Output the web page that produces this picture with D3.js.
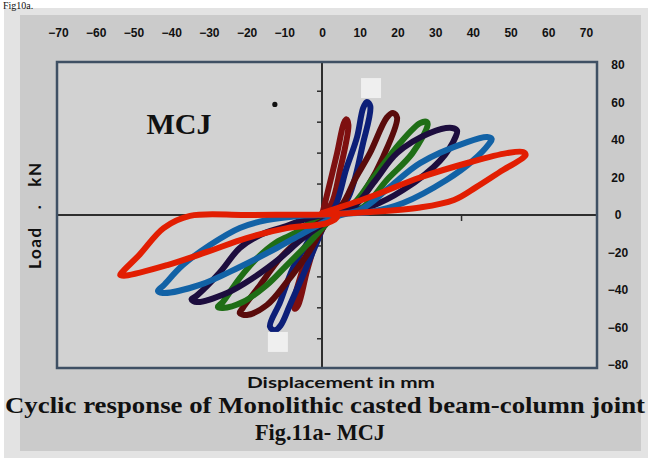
<!DOCTYPE html>
<html>
<head>
<meta charset="utf-8">
<script src="https://cdn.jsdelivr.net/npm/d3@7"></script>
<style>
  html, body { margin: 0; padding: 0; background: #ffffff; }
  svg { display: block; }
</style>
</head>
<body>
<svg id="chart" width="651" height="464"></svg>
<script>
// Axis tick labels
const xTickLabels = [-70, -60, -50, -40, -30, -20, -10, 0, 10, 20, 30, 40, 50, 60, 70];
const yTickLabels = [80, 60, 40, 20, 0, -20, -40, -60, -80];
const yAxisTicks = [-66, -49.5, -33, -16.5, 16.5, 33, 49.5, 66];
const xAxisTicks = [-37, 37];

// Hysteresis cycles: [displacement mm, load kN]
const cycle1 = [[0,0],[0.8,6.4],[4,33],[5.8,49],[6.5,51],[7,48],[4.8,24],[2.5,6],[0,0],[-1,-9],[-4,-30],[-6.3,-48],[-7.2,-50],[-7.5,-47],[-5,-28],[-2,-8],[0,0]];
const cycle2 = [[0,0],[2.9,2.7],[6.5,25],[9.3,41.6],[10.9,57],[11.9,60.3],[12.8,58],[10.9,38.4],[6.6,8],[2,0],[-1.3,-14.4],[-5,-32],[-8.5,-48],[-11,-59],[-12.5,-61.5],[-13.8,-59.5],[-11.1,-46.4],[-7.7,-28.3],[-3.2,-12.3],[0,0]];
const cycle3 = [[0,0],[4.8,4.3],[9,20],[12.7,33],[17.2,52],[18.8,54.4],[19.9,52],[16.2,31],[12,15],[8,4],[3,0],[-4,-21.3],[-9.3,-35.7],[-14.6,-48],[-19.9,-53.3],[-21.8,-52.3],[-21,-49.6],[-16.4,-37.3],[-11.1,-23],[-5.8,-12.3],[-2,-3],[0,0]];
const cycle4 = [[0,0],[7.4,4.3],[14,21],[20.7,38.4],[26,49],[27.8,49.6],[28,48],[24,33],[17.2,18.7],[10.9,4.3],[4,0],[-4,-16],[-9.3,-26.7],[-14.6,-37.3],[-21,-46.4],[-26.3,-49.6],[-27.6,-49],[-26.3,-46.4],[-21.8,-33.6],[-17.2,-23],[-12,-14.4],[-6.6,-9],[-2,-2],[0,0]];
const cycle5 = [[0,0],[8.2,4.3],[14,18],[19.9,33],[28.6,43.7],[34.5,46.4],[35.8,45],[35.5,42],[31.3,29],[21.5,13.3],[12.7,4.3],[5,0.5],[-5,-12.3],[-11.1,-23],[-18.3,-33.6],[-25.2,-41.6],[-33.2,-46.4],[-34.6,-45],[-33.2,-43],[-27,-30.4],[-21.8,-17.6],[-16.4,-10.7],[-10.3,-6.4],[-4,-2],[0,0]];
const cycle6 = [[0,0],[10,2.7],[18,15],[26,27.7],[38.5,38.9],[43.8,41.6],[45,40.5],[44.3,38],[40,29],[33,18.7],[21.5,6.4],[12.7,1.6],[5,0],[-5.8,-10.7],[-12,-17.6],[-21.8,-27.7],[-32.4,-37.3],[-42.2,-41.6],[-43.5,-40.5],[-42,-37.5],[-36.9,-26.7],[-29.7,-16],[-21.8,-6.9],[-14.6,-2.7],[-6,-0.5],[0,0]];
const cycle7 = [[0,1],[12.7,9.6],[26,20],[39,28],[49,33],[53.3,33.6],[54,32],[53,30],[48,24],[41,15],[35,8],[26,4],[12.7,1.6],[0,0.3],[-20,0],[-35,-0.5],[-42,-7],[-48.3,-21],[-53,-30.5],[-53.5,-32],[-52,-32.3],[-41,-26.7],[-30.5,-19.7],[-20,-12.3],[-9.3,-7],[1.3,-4.3],[4,-1],[0,1]];

const cycles = [cycle1, cycle2, cycle3, cycle4, cycle5, cycle6, cycle7];
const cycleColors = ["#7e1010", "#0c1f78", "#5a0b0b", "#1f6e16", "#1d0d3e", "#1262a6", "#e21e02"];

// Pale square markers at the peak cycle
const peakMarkers = [[13, 67.7], [-11.7, -67.7]];
// Isolated point near the label
const strayPoint = [[-12.5, 59]];

const svg = d3.select("#chart");

// Panel background
svg.append("rect").attr("x", 4).attr("y", 8).attr("width", 644).attr("height", 450).attr("fill", "#e3e3e3");
svg.append("rect").attr("x", 20).attr("y", 15).attr("width", 621).attr("height", 436).attr("fill", "#cbcbcb");

// Scales
const x = d3.scaleLinear().domain([-70, 70]).range([58, 586]);
const y = d3.scaleLinear().domain([-80, 80]).range([365, 65]);

const plot = { left: 57, right: 597, top: 62, bottom: 368 };

svg.append("rect")
  .attr("x", plot.left).attr("y", plot.top)
  .attr("width", plot.right - plot.left).attr("height", plot.bottom - plot.top)
  .attr("fill", "#d2d2d2");

// Top displacement labels
const topAxis = svg.append("g")
  .attr("transform", "translate(0,37)")
  .call(d3.axisTop(x).tickValues(xTickLabels).tickSize(0).tickPadding(0).tickFormat(d3.format("d")));
topAxis.select(".domain").remove();
topAxis.selectAll("text")
  .attr("fill", "#111")
  .style("font-family", "'Liberation Sans', Arial, sans-serif")
  .style("font-weight", "bold")
  .style("font-size", "12px");

// Right load labels
const rightAxis = svg.append("g")
  .attr("transform", "translate(618,0)")
  .call(d3.axisRight(y).tickValues(yTickLabels).tickSize(0).tickPadding(0).tickFormat(d3.format("d")));
rightAxis.select(".domain").remove();
rightAxis.selectAll("text")
  .attr("text-anchor", "middle")
  .attr("x", 0)
  .attr("fill", "#111")
  .style("font-family", "'Liberation Sans', Arial, sans-serif")
  .style("font-weight", "bold")
  .style("font-size", "12px");

// Zero lines
svg.append("line")
  .attr("x1", plot.left).attr("x2", plot.right)
  .attr("y1", y(0)).attr("y2", y(0))
  .attr("stroke", "#2e2e2e").attr("stroke-width", 2);
svg.append("line")
  .attr("x1", x(0)).attr("x2", x(0))
  .attr("y1", plot.top).attr("y2", plot.bottom)
  .attr("stroke", "#2e2e2e").attr("stroke-width", 2);

// Small ticks on the zero lines
svg.append("g").selectAll("line").data(yAxisTicks).join("line")
  .attr("x1", x(0) - 5).attr("x2", x(0) + 1)
  .attr("y1", d => y(d)).attr("y2", d => y(d))
  .attr("stroke", "#2e2e2e").attr("stroke-width", 1.5);
svg.append("g").selectAll("line").data(xAxisTicks).join("line")
  .attr("x1", d => x(d)).attr("x2", d => x(d))
  .attr("y1", y(0)).attr("y2", y(0) + 6)
  .attr("stroke", "#2e2e2e").attr("stroke-width", 1.5);

// Frame
svg.append("rect")
  .attr("x", plot.left).attr("y", plot.top)
  .attr("width", plot.right - plot.left).attr("height", plot.bottom - plot.top)
  .attr("fill", "none").attr("stroke", "#3f5064").attr("stroke-width", 2.5);

// Hysteresis loops
const line = d3.line()
  .x(d => x(d[0]))
  .y(d => y(d[1]))
  .curve(d3.curveCatmullRom.alpha(0.5));

svg.append("g").selectAll("path").data(cycles).join("path")
  .attr("d", line)
  .attr("fill", "none")
  .attr("stroke", (d, i) => cycleColors[i])
  .attr("stroke-width", 6)
  .attr("stroke-linejoin", "round")
  .attr("stroke-linecap", "round");

// Peak markers
svg.append("g").selectAll("rect").data(peakMarkers).join("rect")
  .attr("x", d => x(d[0]) - 10).attr("y", d => y(d[1]) - 10)
  .attr("width", 20).attr("height", 20)
  .attr("fill", "#efefef");

svg.append("g").selectAll("circle").data(strayPoint).join("circle")
  .attr("cx", d => x(d[0])).attr("cy", d => y(d[1]))
  .attr("r", 2.6).attr("fill", "#111");

// Specimen label
svg.append("text")
  .attr("x", 179).attr("y", 134)
  .attr("text-anchor", "middle")
  .attr("fill", "#111")
  .style("font-family", "'Liberation Serif', 'Times New Roman', serif")
  .style("font-weight", "bold")
  .style("font-size", "30px")
  .text("MCJ");

// Axis titles
svg.append("text")
  .attr("transform", "translate(41,216) rotate(-90)")
  .attr("text-anchor", "middle")
  .attr("fill", "#111")
  .attr("textLength", 106).attr("lengthAdjust", "spacing")
  .style("font-family", "Lato, 'Liberation Sans', sans-serif")
  .style("font-weight", "bold")
  .style("font-size", "17px")
  .style("white-space", "pre")
  .text("Load   .   kN");

svg.append("text")
  .attr("x", 341).attr("y", 388)
  .attr("text-anchor", "middle")
  .attr("fill", "#111")
  .attr("textLength", 188).attr("lengthAdjust", "spacingAndGlyphs")
  .style("font-family", "Lato, 'Liberation Sans', sans-serif")
  .style("font-weight", "bold")
  .style("font-size", "16px")
  .text("Displacement in mm");

// Caption
svg.append("text")
  .attr("x", 325).attr("y", 413)
  .attr("text-anchor", "middle")
  .attr("fill", "#111")
  .attr("textLength", 640).attr("lengthAdjust", "spacingAndGlyphs")
  .style("font-family", "'Liberation Serif', 'Times New Roman', serif")
  .style("font-weight", "bold")
  .style("font-size", "24px")
  .text("Cyclic response of Monolithic casted beam-column joint");

svg.append("text")
  .attr("x", 320).attr("y", 440)
  .attr("text-anchor", "middle")
  .attr("fill", "#111")
  .attr("textLength", 130).attr("lengthAdjust", "spacingAndGlyphs")
  .style("font-family", "'Liberation Serif', 'Times New Roman', serif")
  .style("font-weight", "bold")
  .style("font-size", "23px")
  .text("Fig.11a- MCJ");

// Figure heading above the panel
svg.append("text")
  .attr("x", 3).attr("y", 9)
  .attr("fill", "#111")
  .style("font-family", "'Liberation Serif', 'Times New Roman', serif")
  .style("font-size", "10px")
  .text("Fig10a.");
</script>
</body>
</html>
